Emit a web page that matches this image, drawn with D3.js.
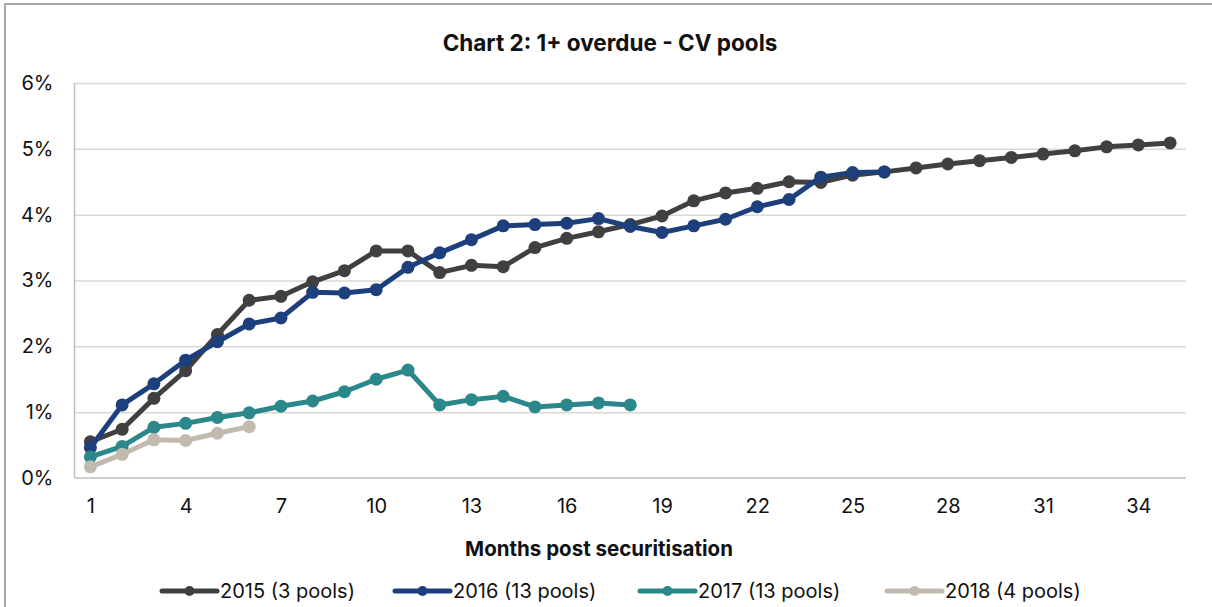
<!DOCTYPE html>
<html>
<head>
<meta charset="utf-8">
<script src="https://cdn.jsdelivr.net/npm/d3@7"></script>
<style>
  html, body { margin: 0; padding: 0; background: #fff; }
  svg { display: block; font-family: Inter, Roboto, sans-serif; }
</style>
</head>
<body>
<svg id="chart" width="1212" height="607"></svg>
<script>
const chartTitle = "Chart 2: 1+ overdue - CV pools";
const xAxisTitle = "Months post securitisation";
const months = d3.range(1, 36);
const xTickValues = [1, 4, 7, 10, 13, 16, 19, 22, 25, 28, 31, 34];
const yTickValues = [0, 0.01, 0.02, 0.03, 0.04, 0.05, 0.06];

const seriesNames = ["2015 (3 pools)", "2016 (13 pools)", "2017 (13 pools)", "2018 (4 pools)"];
const seriesColors = ["#404040", "#1d3f7b", "#2a878a", "#c2baaf"];

const values2015 = [0.55, 0.74, 1.21, 1.63, 2.18, 2.70, 2.76, 2.98, 3.15, 3.45, 3.45, 3.12,
  3.23, 3.21, 3.50, 3.64, 3.74, 3.85, 3.98, 4.21, 4.33, 4.40, 4.50, 4.49, 4.60, 4.65,
  4.71, 4.77, 4.82, 4.87, 4.92, 4.97, 5.03, 5.06, 5.09];
const values2016 = [0.46, 1.11, 1.43, 1.79, 2.07, 2.34, 2.43, 2.82, 2.81, 2.86, 3.20, 3.42,
  3.62, 3.83, 3.85, 3.87, 3.94, 3.82, 3.73, 3.83, 3.93, 4.12, 4.23, 4.57, 4.64, 4.65];
const values2017 = [0.32, 0.48, 0.77, 0.83, 0.92, 0.99, 1.09, 1.17, 1.31, 1.50, 1.64, 1.11,
  1.19, 1.24, 1.08, 1.11, 1.14, 1.11];
const values2018 = [0.17, 0.36, 0.58, 0.57, 0.68, 0.78];

const allSeries = [values2015, values2016, values2017, values2018].map((vals, i) => ({
  name: seriesNames[i],
  color: seriesColors[i],
  points: vals.map((v, j) => ({ month: months[j], value: v / 100 }))
}));

const svg = d3.select("#chart");

// outer frame
svg.append("rect")
  .attr("x", 5).attr("y", 4).attr("width", 1240).attr("height", 640)
  .attr("fill", "none").attr("stroke", "#a8a8a8").attr("stroke-width", 2);

const plot = { left: 74.5, right: 1186, top: 83, bottom: 478 };

const x = d3.scalePoint().domain(months).range([plot.left, plot.right]).padding(0.5);
const y = d3.scaleLinear().domain([0, 0.06]).range([plot.bottom, plot.top]);

const FONT = "Inter, Roboto, sans-serif";

// gridlines
svg.append("g")
  .attr("transform", `translate(${plot.left},0)`)
  .call(d3.axisLeft(y).tickValues(yTickValues.slice(1)).tickSize(-(plot.right - plot.left)).tickFormat(""))
  .call(g => g.select(".domain").remove())
  .call(g => g.selectAll("line").attr("stroke", "#d9d9d2").attr("stroke-width", 1.5));

// y axis labels
svg.append("g")
  .attr("transform", `translate(${plot.left},0)`)
  .call(d3.axisLeft(y).tickValues(yTickValues).tickSize(0).tickPadding(21).tickFormat(d3.format(".0%")))
  .call(g => g.select(".domain").remove())
  .call(g => g.selectAll("text").attr("font-size", 20).attr("fill", "#111").attr("font-family", FONT));

// y axis line
svg.append("line")
  .attr("x1", plot.left).attr("x2", plot.left).attr("y1", plot.top).attr("y2", plot.bottom)
  .attr("stroke", "#bfbfbf").attr("stroke-width", 1.5);

// x axis
svg.append("g")
  .attr("transform", `translate(0,${plot.bottom})`)
  .call(d3.axisBottom(x).tickValues(xTickValues).tickSize(0).tickPadding(21))
  .call(g => g.select(".domain").remove())
  .call(g => g.selectAll("text").attr("font-size", 20).attr("fill", "#111").attr("font-family", FONT));

svg.append("line")
  .attr("x1", plot.left).attr("x2", plot.right).attr("y1", plot.bottom).attr("y2", plot.bottom)
  .attr("stroke", "#bfbfbf").attr("stroke-width", 1.5);

// lines
const line = d3.line().x(d => x(d.month)).y(d => y(d.value));
const seriesG = svg.append("g");
allSeries.forEach(s => {
  const g = seriesG.append("g");
  g.append("path").datum(s.points)
    .attr("d", line).attr("fill", "none")
    .attr("stroke", s.color).attr("stroke-width", 5).attr("stroke-linejoin", "round");
  g.selectAll("circle").data(s.points).join("circle")
    .attr("cx", d => x(d.month)).attr("cy", d => y(d.value)).attr("r", 6.5)
    .attr("fill", s.color);
});

// title
svg.append("text")
  .attr("x", 610).attr("y", 51).attr("text-anchor", "middle")
  .attr("font-size", 22.5).attr("font-weight", "bold").attr("fill", "#111")
  .text(chartTitle);

// x axis title
svg.append("text")
  .attr("x", 599).attr("y", 556).attr("text-anchor", "middle")
  .attr("font-size", 20.5).attr("font-weight", "bold").attr("fill", "#111")
  .text(xAxisTitle);

// legend
const legendX = [162, 395, 640, 887];
const legend = svg.append("g");
allSeries.forEach((s, i) => {
  const g = legend.append("g").attr("transform", `translate(${legendX[i]},591)`);
  g.append("line").attr("x1", 0).attr("x2", 55).attr("y1", 0).attr("y2", 0)
    .attr("stroke", s.color).attr("stroke-width", 5).attr("stroke-linecap", "round");
  g.append("circle").attr("cx", 27.5).attr("cy", 0).attr("r", 5).attr("fill", s.color);
  g.append("text").attr("x", 58).attr("y", 0).attr("dy", "0.35em")
    .attr("font-size", 20).attr("fill", "#111").text(s.name);
});
</script>
</body>
</html>
